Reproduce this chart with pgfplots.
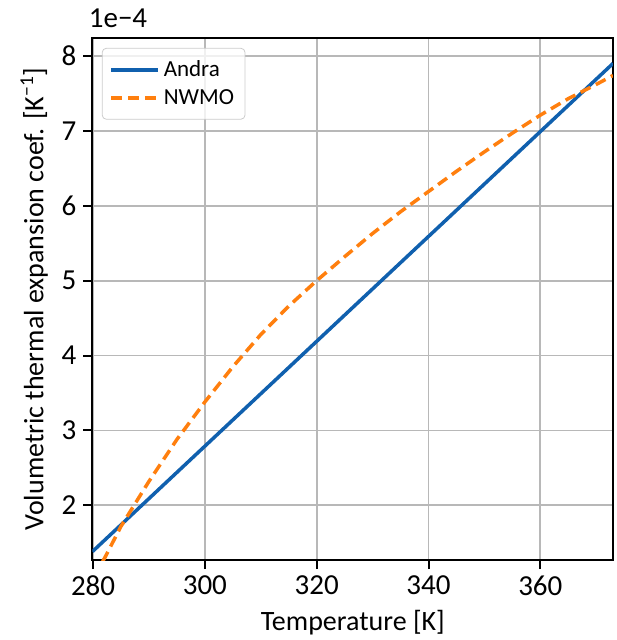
\documentclass[border=0pt]{standalone}
\usepackage{fontspec}
\setmainfont{Carlito}
\usepackage{pgfplots}
\pgfplotsset{compat=1.18}
\definecolor{andra}{RGB}{16,96,174}
\definecolor{nwmo}{RGB}{255,127,14}
\begin{document}
\begin{tikzpicture}
\begin{axis}[
  scale only axis, width=260.25pt, height=261pt,
  xmin=279.9, xmax=373, ymin=1.27, ymax=8.24,
  xtick={280,300,320,340,360}, ytick={2,3,4,5,6,7,8},
  grid=major, grid style={color=black!28, line width=0.9pt},
  axis line style={line width=1pt},
  tick style={black, line width=1pt},
  tick align=outside, major tick length=4.5pt, tick pos=left,
  ticklabel style={font=\fontsize{14.5}{14.5}\selectfont},
  /pgf/number format/assume math mode=true,
  xlabel={Temperature [K]},
  ylabel={Volumetric thermal expansion coef. [K\textsuperscript{−1}]},
  label style={font=\fontsize{14}{14}\selectfont},
  legend style={at={(0.018,0.981)}, anchor=north west, draw=black!20, rounded corners=2pt,
    fill=white, fill opacity=0.8, text opacity=1, font=\fontsize{11.5}{15}\selectfont,
    inner xsep=3.5pt, inner ysep=4pt, row sep=1pt},
  legend cell align=left,
  legend image code/.code={\draw[#1] (0pt,0pt) -- (23.5pt,0pt);},
]
\addplot[andra, line width=1.75pt] coordinates {
 (279.9,1.383) (300,2.79) (320,4.19) (340,5.59) (360,6.99) (373,7.90)};
\addlegendentry{Andra}
\addplot[nwmo, line width=1.75pt, dash pattern=on 5.5pt off 3pt] coordinates {
 (281.7,1.25) (282.1,1.30) (285,1.72) (290,2.32) (295,2.88) (300,3.38)
 (305,3.85) (310,4.28) (315,4.66) (320,5.00) (325,5.32) (330,5.63)
 (335,5.92) (340,6.19) (345,6.46) (350,6.72) (355,6.97) (360,7.21)
 (365,7.43) (370,7.62) (373,7.74)};
\addlegendentry{NWMO}
\coordinate (A) at (rel axis cs:0,0);
\coordinate (B) at (rel axis cs:1,1);
\coordinate (C) at (rel axis cs:0,1);
\end{axis}
\node[anchor=south west, font=\fontsize{14.5}{14.5}\selectfont, inner sep=0pt] at ([shift={(-2pt,5pt)}]C) {1e−4};
\pgfresetboundingbox
\useasboundingbox ([shift={(-46.25pt,-40pt)}]A) rectangle ([shift={(2pt,19pt)}]B);
\end{tikzpicture}
\end{document}
